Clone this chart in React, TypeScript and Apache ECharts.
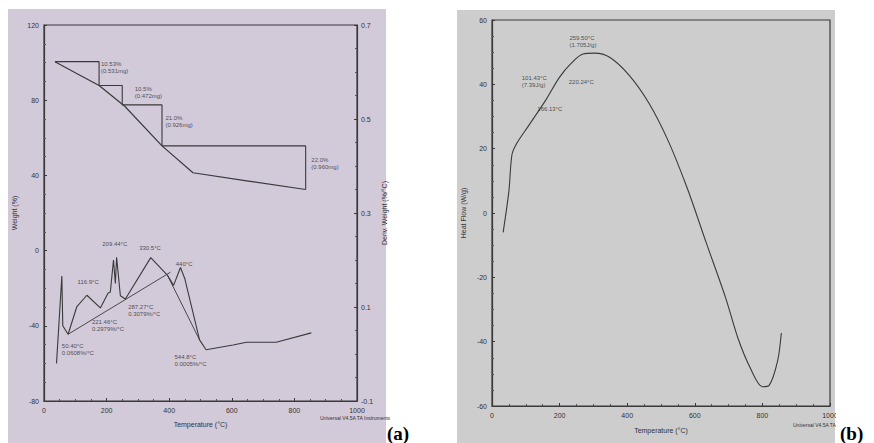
import React, { useEffect, useRef } from "react";
import * as echarts from "echarts";

// ---------- Panel (a): TGA / DTG ----------
const weightT = [35, 103, 176, 258, 377, 476, 653, 836];
const weightV = [100.5, 94.3, 87.8, 76.8, 55.7, 41.4, 37.0, 32.5];

const step1 = [[35, 100.5], [176, 100.5], [176, 87.8]];
const step2 = [[176, 87.8], [250, 87.8], [250, 77.5]];
const step3 = [[250, 77.5], [377, 77.5], [377, 55.7]];
const step4 = [[377, 55.7], [836, 55.7], [836, 32.5]];

const dtgT = [40, 57, 60, 77, 105, 137, 180, 205, 212, 222, 228, 232, 244, 260, 341, 394, 414, 436, 450, 497, 518, 604, 647, 742, 854];
const dtgV = [-0.02, 0.166, 0.06, 0.042, 0.101, 0.125, 0.098, 0.13, 0.132, 0.2, 0.15, 0.206, 0.124, 0.117, 0.205, 0.168, 0.146, 0.184, 0.16, 0.03, 0.009, 0.019, 0.025, 0.025, 0.045];
const tangentA = [[77, 0.042], [404, 0.174]];
const tangentB = [[394, 0.168], [497, 0.03]];

const weightNotes = [
  [182, 101, "10.53%\n(0.531mg)"],
  [290, 87.6, "10.5%\n(0.472mg)"],
  [388, 72.4, "21.0%\n(0.926mg)"],
  [854, 50.1, "22.0%\n(0.960mg)"],
];
const dtgNotes = [
  [57, 0.025, "50.40°C\n0.0608%/°C"],
  [107, 0.161, "116.9°C"],
  [186, 0.241, "209.44°C"],
  [153, 0.075, "221.46°C\n0.2979%/°C"],
  [304, 0.232, "330.5°C"],
  [269, 0.108, "287.27°C\n0.3079%/°C"],
  [421, 0.198, "440°C"],
  [417, 0.002, "544.8°C\n0.0005%/°C"],
];

// ---------- Panel (b): DSC ----------
const heatT = [33, 50, 59, 73, 108, 159, 199, 234, 269, 304, 348, 406, 464, 521, 578, 634, 691, 728, 766, 800, 820, 845, 856];
const heatV = [-6.0, 6.8, 18.1, 21.6, 27.1, 35.1, 42.1, 46.5, 49.4, 49.7, 48.4, 42.8, 34.2, 22.5, 7.6, -9.3, -26.3, -39.0, -48.6, -54.0, -53.6, -46.0, -37.3];
const heatNotes = [
  [229, 55.6, "259.50°C\n(1.705J/g)"],
  [88, 43.2, "101.43°C\n(7.39J/g)"],
  [227, 41.7, "220.24°C"],
  [134, 33.3, "166.13°C"],
];

const INK = "#3a3a3a";
const FONT = "Liberation Sans";

const pair = (xs: number[], ys: number[]) => xs.map((x, i) => [x, ys[i]]);

const lineSeries = (data: any, xi: number, yi: number, width = 1.1) => ({
  type: "line",
  xAxisIndex: xi,
  yAxisIndex: yi,
  data,
  showSymbol: false,
  symbol: "none",
  lineStyle: { color: INK, width },
  z: 3,
});

const noteSeries = (notes: any[], xi: number, yi: number) => ({
  type: "scatter",
  xAxisIndex: xi,
  yAxisIndex: yi,
  symbolSize: 0,
  data: notes.map((n) => ({ value: [n[0], n[1]], name: n[2] })),
  label: {
    show: true,
    position: "inside",
    align: "left",
    verticalAlign: "top",
    formatter: (p: any) => p.name,
    fontSize: 6,
    lineHeight: 7,
    color: "#2a2a2a",
    fontFamily: FONT,
  },
  z: 4,
});

const plain = (v: number) => String(Math.round(v * 10) / 10);

const axisCommon = {
  axisLine: { show: true, onZero: false, lineStyle: { color: INK, width: 1.2 } },
  axisTick: { show: true, inside: true, length: 3, lineStyle: { color: INK } },
  minorTick: { show: true, splitNumber: 4, length: 2, lineStyle: { color: "#555" } },
  splitLine: { show: false },
  axisLabel: { fontSize: 7, color: "#333", fontFamily: FONT, showMinLabel: true, showMaxLabel: true, hideOverlap: false, formatter: plain },
  nameTextStyle: { fontSize: 7, color: "#333", fontFamily: FONT },
};

export default function App() {
  const ref = useRef<HTMLDivElement>(null);
  useEffect(() => {
    if (!ref.current) return;
    const chart = echarts.init(ref.current, null, { renderer: "svg" });
    chart.setOption({
      animation: false,
      backgroundColor: "#ffffff",
      grid: [
        { left: 44, top: 25, width: 313, height: 376, show: true, borderColor: INK, borderWidth: 1.2, backgroundColor: "transparent" },
        { left: 492, top: 20, width: 338, height: 386, show: true, borderColor: INK, borderWidth: 1.2, backgroundColor: "transparent" },
      ],
      xAxis: [
        {
          ...axisCommon,
          type: "value",
          gridIndex: 0,
          min: 0,
          max: 1000,
          interval: 200,
          name: "Temperature (°C)",
          nameLocation: "middle",
          nameGap: 20,
          axisLabel: { ...axisCommon.axisLabel, margin: 6 },
        },
        {
          ...axisCommon,
          type: "value",
          gridIndex: 1,
          min: 0,
          max: 1000,
          interval: 200,
          name: "Temperature (°C)",
          nameLocation: "middle",
          nameGap: 21,
          axisLabel: { ...axisCommon.axisLabel, margin: 6 },
        },
      ],
      yAxis: [
        {
          ...axisCommon,
          type: "value",
          gridIndex: 0,
          min: -80,
          max: 120,
          interval: 40,
          name: "Weight (%)",
          nameLocation: "middle",
          nameGap: 26,
          nameRotate: 90,
          axisLabel: { ...axisCommon.axisLabel, margin: 5 },
        },
        {
          ...axisCommon,
          type: "value",
          gridIndex: 0,
          position: "right",
          min: -0.1,
          max: 0.7,
          interval: 0.2,
          name: "Deriv. Weight (%/°C)",
          nameLocation: "middle",
          nameGap: 24,
          nameRotate: 90,
          axisLabel: { ...axisCommon.axisLabel, margin: 4 },
        },
        {
          ...axisCommon,
          type: "value",
          gridIndex: 1,
          min: -60,
          max: 60,
          interval: 20,
          name: "Heat Flow (W/g)",
          nameLocation: "middle",
          nameGap: 25,
          nameRotate: 90,
          axisLabel: { ...axisCommon.axisLabel, margin: 5 },
        },
      ],
      series: [
        lineSeries(pair(weightT, weightV), 0, 0, 1.2),
        lineSeries(step1, 0, 0, 1.1),
        lineSeries(step2, 0, 0, 1.1),
        lineSeries(step3, 0, 0, 1.1),
        lineSeries(step4, 0, 0, 1.1),
        lineSeries(pair(dtgT, dtgV), 0, 1, 1.1),
        lineSeries(tangentA, 0, 1, 0.9),
        lineSeries(tangentB, 0, 1, 0.9),
        noteSeries(weightNotes, 0, 0),
        noteSeries(dtgNotes, 0, 1),
        { ...lineSeries(pair(heatT, heatV), 1, 2, 1.1), smooth: 0.3 },
        noteSeries(heatNotes, 1, 2),
      ],
      graphic: [
        { type: "rect", z: -100, shape: { x: 8, y: 9, width: 378, height: 434 }, style: { fill: "#d2c9d9" } },
        { type: "rect", z: -100, shape: { x: 457, y: 10, width: 378, height: 433 }, style: { fill: "#cdcdcd" } },
        { type: "rect", z: 100, shape: { x: 836, y: 0, width: 38, height: 443 }, style: { fill: "#ffffff" } },
        { type: "text", z: 101, x: 320, y: 415, style: { text: "Universal V4.5A TA Instruments", fill: "#333", font: `5px ${FONT}` } },
        { type: "text", z: 101, x: 793, y: 422, style: { text: "Universal V4.5A TA", fill: "#333", font: `5px ${FONT}` } },
        { type: "text", z: 101, x: 387, y: 424, style: { text: "(a)", fill: "#000", font: `bold 19px "Liberation Serif"` } },
        { type: "text", z: 101, x: 840, y: 424, style: { text: "(b)", fill: "#000", font: `bold 19px "Liberation Serif"` } },
      ],
    });
    return () => chart.dispose();
  }, []);
  return <div ref={ref} style={{ position: "fixed", left: 0, top: 0, width: 874, height: 443 }} />;
}
